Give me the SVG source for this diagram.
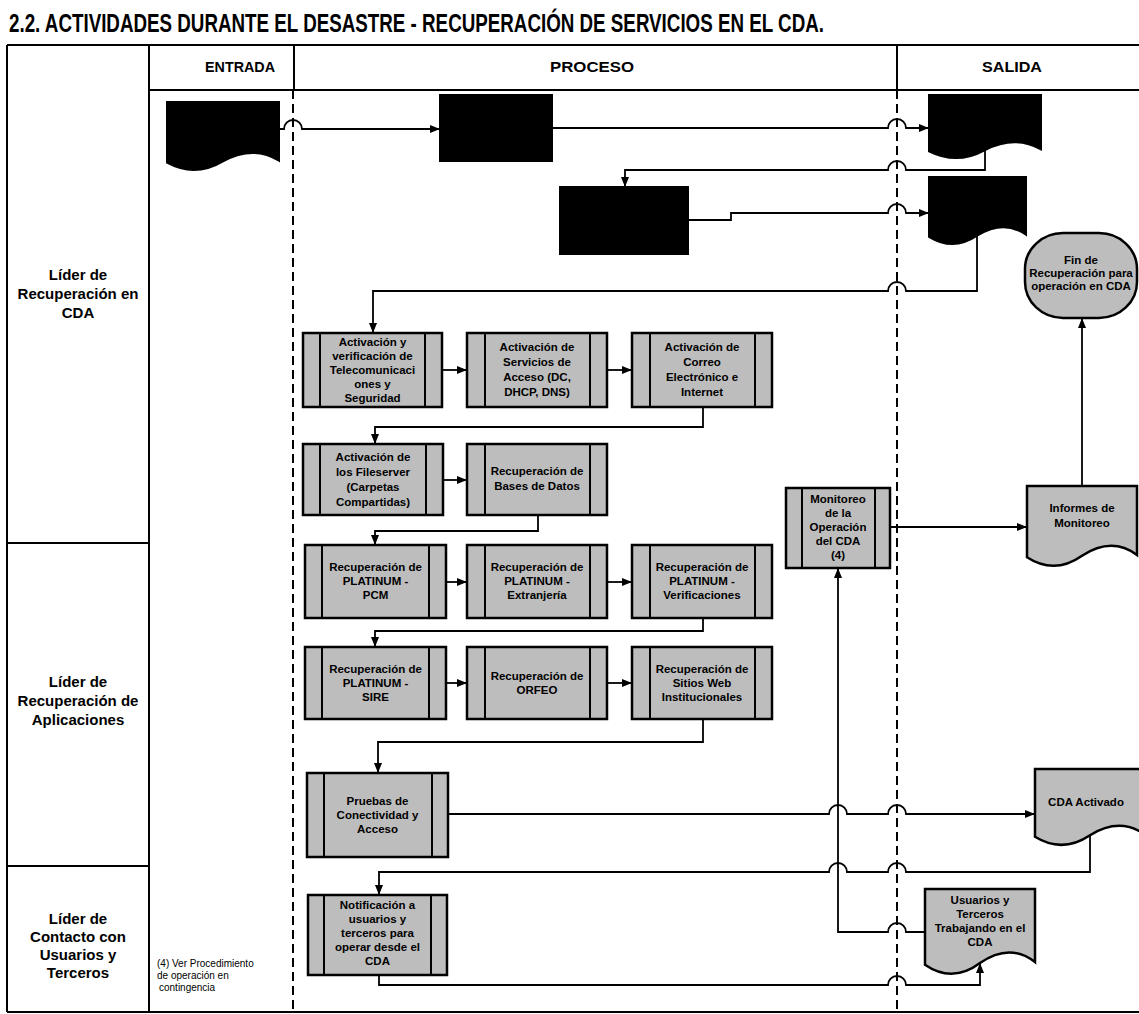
<svg xmlns="http://www.w3.org/2000/svg" width="1139" height="1014" viewBox="0 0 1139 1014">
  <style>
    .frame { stroke: #000; stroke-width: 2; fill: none; }
    .dash { stroke: #000; stroke-width: 2; stroke-dasharray: 9 5; fill: none; }
    .blk { fill: #000; stroke: #000; stroke-width: 2; }
    .proc { fill: #bdbdbd; stroke: #000; stroke-width: 2.5; }
    .side { stroke: #000; stroke-width: 2; fill: none; }
    .doc { fill: #bdbdbd; stroke: #000; stroke-width: 2.5; }
    .conn { stroke: #000; stroke-width: 1.8; fill: none; }
    .t { font-family: "Liberation Sans", Arial, sans-serif; font-weight: bold; font-size: 11.5px; text-anchor: middle; fill: #000; }
    .lane { font-family: "Liberation Sans", Arial, sans-serif; font-weight: bold; font-size: 15px; text-anchor: middle; fill: #000; }
    .head { font-family: "Liberation Sans", Arial, sans-serif; font-weight: bold; font-size: 15px; text-anchor: middle; fill: #000; }
    .note { font-family: "Liberation Sans", Arial, sans-serif; font-size: 10px; fill: #000; }
  </style>
  <defs>
    <marker id="arrow" viewBox="0 0 10 8" refX="10" refY="4" markerWidth="10" markerHeight="8" markerUnits="userSpaceOnUse" orient="auto">
      <path d="M0,0 L10,4 L0,8 Z" fill="#000"/>
    </marker>
  </defs>

  <rect width="1139" height="1014" fill="#fff"/>

  <!-- Title -->
  <text x="9" y="32" font-family="'Liberation Sans', Arial, sans-serif" font-weight="bold" font-size="25" textLength="815" lengthAdjust="spacingAndGlyphs">2.2. ACTIVIDADES DURANTE EL DESASTRE - RECUPERACIÓN DE SERVICIOS EN EL CDA.</text>

  <!-- Swimlane frame -->
  <g id="frame">
    <line class="frame" x1="7" y1="45" x2="1139" y2="45"/>
    <line class="frame" x1="7" y1="45" x2="7" y2="1012"/>
    <line class="frame" x1="149" y1="45" x2="149" y2="1012"/>
    <line class="frame" x1="294" y1="45" x2="294" y2="90"/>
    <line class="frame" x1="897" y1="45" x2="897" y2="90"/>
    <line class="frame" x1="149" y1="90" x2="1139" y2="90"/>
    <line class="frame" x1="7" y1="543" x2="149" y2="543"/>
    <line class="frame" x1="7" y1="866" x2="149" y2="866"/>
    <line class="frame" x1="7" y1="1012" x2="1139" y2="1012"/>
    <line class="dash" x1="293" y1="90" x2="293" y2="1012"/>
    <line class="dash" x1="897" y1="90" x2="897" y2="1012"/>
    <text class="head" x="240" y="72" textLength="70" lengthAdjust="spacingAndGlyphs">ENTRADA</text>
    <text class="head" x="592" y="72" textLength="84" lengthAdjust="spacingAndGlyphs">PROCESO</text>
    <text class="head" x="1012" y="72" textLength="60" lengthAdjust="spacingAndGlyphs">SALIDA</text>
  </g>

  <!-- Lane labels -->
  <g id="lane-cda">
    <text class="lane" x="78" y="280">Líder de</text>
    <text class="lane" x="78" y="299">Recuperación en</text>
    <text class="lane" x="78" y="318">CDA</text>
  </g>
  <g id="lane-apps">
    <text class="lane" x="78" y="687">Líder de</text>
    <text class="lane" x="78" y="706">Recuperación de</text>
    <text class="lane" x="78" y="725">Aplicaciones</text>
  </g>
  <g id="lane-users">
    <text class="lane" x="78" y="924">Líder de</text>
    <text class="lane" x="78" y="942">Contacto con</text>
    <text class="lane" x="78" y="960">Usuarios y</text>
    <text class="lane" x="78" y="978">Terceros</text>
  </g>
  <g id="footnote">
    <text class="note" x="157" y="967">(4) Ver Procedimiento</text>
    <text class="note" x="157" y="979">de operación en</text>
    <text class="note" x="159" y="991">contingencia</text>
  </g>

  <!-- Connectors -->
  <g id="connectors">
    <path class="conn" d="M279,129 H284 A9,9 0 0 1 302,129 H440" marker-end="url(#arrow)"/>
    <path class="conn" d="M552,128 H888 A9,9 0 0 1 906,128 H929" marker-end="url(#arrow)"/>
    <path class="conn" d="M985,150 V170 H906 A9,9 0 0 0 888,170 H625 V187" marker-end="url(#arrow)"/>
    <path class="conn" d="M688,220 H731 V213 H888 A9,9 0 0 1 906,213 H929" marker-end="url(#arrow)"/>
    <path class="conn" d="M977,235 V291 H906 A9,9 0 0 0 888,291 H373 V333" marker-end="url(#arrow)"/>
    <path class="conn" d="M442,370 H467" marker-end="url(#arrow)"/>
    <path class="conn" d="M607,370 H632" marker-end="url(#arrow)"/>
    <path class="conn" d="M703,407 V427 H375 V444" marker-end="url(#arrow)"/>
    <path class="conn" d="M443,480 H467" marker-end="url(#arrow)"/>
    <path class="conn" d="M538,515 V531 H375 V545" marker-end="url(#arrow)"/>
    <path class="conn" d="M446,582 H467" marker-end="url(#arrow)"/>
    <path class="conn" d="M607,582 H632" marker-end="url(#arrow)"/>
    <path class="conn" d="M703,618 V631 H375 V647" marker-end="url(#arrow)"/>
    <path class="conn" d="M446,683 H467" marker-end="url(#arrow)"/>
    <path class="conn" d="M607,683 H632" marker-end="url(#arrow)"/>
    <path class="conn" d="M703,719 V742 H378 V773" marker-end="url(#arrow)"/>
    <path class="conn" d="M448,814 H829 A9,9 0 0 1 847,814 H888 A9,9 0 0 1 906,814 H1035" marker-end="url(#arrow)"/>
    <path class="conn" d="M1090,835 V872 H906 A9,9 0 0 0 888,872 H847 A9,9 0 0 0 829,872 H379 V895" marker-end="url(#arrow)"/>
    <path class="conn" d="M379,975 V985 H888 A9,9 0 0 1 906,985 H980 V963" marker-end="url(#arrow)"/>
    <path class="conn" d="M925,932 H906 A9,9 0 0 0 888,932 H838 V568" marker-end="url(#arrow)"/>
    <path class="conn" d="M890,527 H1027" marker-end="url(#arrow)"/>
    <path class="conn" d="M1082,486 V318" marker-end="url(#arrow)"/>
  </g>

  <!-- Blacked-out inputs, steps and outputs -->
  <g id="doc-input">
    <path class="blk" d="M167,102 H279 V160.7 Q253.2,144.8 223,161.3 Q195,177.9 167,162.7 Z"/>
  </g>
  <g id="step-black-1">
    <rect class="blk" x="440" y="95" width="112" height="66"/>
  </g>
  <g id="doc-output-1">
    <path class="blk" d="M929,95 H1041 V149.4 Q1015.2,134.7 985,150 Q957,165.4 929,151.3 Z"/>
  </g>
  <g id="step-black-2">
    <rect class="blk" x="560" y="187" width="128" height="67"/>
  </g>
  <g id="doc-output-2">
    <path class="blk" d="M929,177 H1026 V234.8 Q1003.7,219.2 977.5,235.5 Q953.3,251.8 929,236.8 Z"/>
  </g>

  <!-- End terminal -->
  <g id="fin-recuperacion">
    <rect class="doc" x="1025" y="233" width="112" height="85" rx="38" ry="36"/>
    <text class="t" font-size="11" x="1081" y="264">Fin de</text>
    <text class="t" font-size="11" x="1081" y="277">Recuperación para</text>
    <text class="t" font-size="11" x="1081" y="290">operación en CDA</text>
  </g>

  <!-- Recovery steps -->
  <g id="act-telecom">
    <rect class="proc" x="303" y="333" width="139" height="74"/>
    <path class="side" d="M320,333 V407 M425,333 V407"/>
    <text class="t" x="372.5" y="346">Activación y</text>
    <text class="t" x="372.5" y="360">verificación de</text>
    <text class="t" x="372.5" y="374">Telecomunicaci</text>
    <text class="t" x="372.5" y="388">ones y</text>
    <text class="t" x="372.5" y="402">Seguridad</text>
  </g>
  <g id="act-acceso">
    <rect class="proc" x="467" y="333" width="140" height="74"/>
    <path class="side" d="M485,333 V407 M590,333 V407"/>
    <text class="t" x="537" y="351">Activación de</text>
    <text class="t" x="537" y="366">Servicios de</text>
    <text class="t" x="537" y="381">Acceso (DC,</text>
    <text class="t" x="537" y="396">DHCP, DNS)</text>
  </g>
  <g id="act-correo">
    <rect class="proc" x="632" y="333" width="140" height="74"/>
    <path class="side" d="M650,333 V407 M755,333 V407"/>
    <text class="t" x="702" y="351">Activación de</text>
    <text class="t" x="702" y="366">Correo</text>
    <text class="t" x="702" y="381">Electrónico e</text>
    <text class="t" x="702" y="396">Internet</text>
  </g>
  <g id="act-fileserver">
    <rect class="proc" x="303" y="444" width="140" height="71"/>
    <path class="side" d="M320,444 V515 M426,444 V515"/>
    <text class="t" x="373" y="461">Activación de</text>
    <text class="t" x="373" y="476">los Fileserver</text>
    <text class="t" x="373" y="491">(Carpetas</text>
    <text class="t" x="373" y="506">Compartidas)</text>
  </g>
  <g id="rec-bases">
    <rect class="proc" x="467" y="444" width="140" height="71"/>
    <path class="side" d="M485,444 V515 M590,444 V515"/>
    <text class="t" x="537" y="475">Recuperación de</text>
    <text class="t" x="537" y="490">Bases de Datos</text>
  </g>
  <g id="rec-pcm">
    <rect class="proc" x="305" y="545" width="141" height="73"/>
    <path class="side" d="M322,545 V618 M429,545 V618"/>
    <text class="t" x="375.5" y="571">Recuperación de</text>
    <text class="t" x="375.5" y="585">PLATINUM -</text>
    <text class="t" x="375.5" y="599">PCM</text>
  </g>
  <g id="rec-extranjeria">
    <rect class="proc" x="467" y="545" width="140" height="73"/>
    <path class="side" d="M485,545 V618 M590,545 V618"/>
    <text class="t" x="537" y="571">Recuperación de</text>
    <text class="t" x="537" y="585">PLATINUM -</text>
    <text class="t" x="537" y="599">Extranjería</text>
  </g>
  <g id="rec-verificaciones">
    <rect class="proc" x="632" y="545" width="140" height="73"/>
    <path class="side" d="M650,545 V618 M755,545 V618"/>
    <text class="t" x="702" y="571">Recuperación de</text>
    <text class="t" x="702" y="585">PLATINUM -</text>
    <text class="t" x="702" y="599">Verificaciones</text>
  </g>
  <g id="rec-sire">
    <rect class="proc" x="305" y="647" width="141" height="72"/>
    <path class="side" d="M322,647 V719 M429,647 V719"/>
    <text class="t" x="375.5" y="673">Recuperación de</text>
    <text class="t" x="375.5" y="687">PLATINUM -</text>
    <text class="t" x="375.5" y="701">SIRE</text>
  </g>
  <g id="rec-orfeo">
    <rect class="proc" x="467" y="647" width="140" height="72"/>
    <path class="side" d="M485,647 V719 M590,647 V719"/>
    <text class="t" x="537" y="680">Recuperación de</text>
    <text class="t" x="537" y="694">ORFEO</text>
  </g>
  <g id="rec-sitios">
    <rect class="proc" x="632" y="647" width="140" height="72"/>
    <path class="side" d="M650,647 V719 M755,647 V719"/>
    <text class="t" x="702" y="673">Recuperación de</text>
    <text class="t" x="702" y="687">Sitios Web</text>
    <text class="t" x="702" y="701">Institucionales</text>
  </g>
  <g id="pruebas">
    <rect class="proc" x="307" y="773" width="141" height="84"/>
    <path class="side" d="M324,773 V857 M432,773 V857"/>
    <text class="t" x="377.5" y="805">Pruebas de</text>
    <text class="t" x="377.5" y="819">Conectividad y</text>
    <text class="t" x="377.5" y="833">Acceso</text>
  </g>
  <g id="notificacion">
    <rect class="proc" x="308" y="895" width="139" height="80"/>
    <path class="side" d="M324,895 V975 M431,895 V975"/>
    <text class="t" x="377.5" y="909">Notificación a</text>
    <text class="t" x="377.5" y="923">usuarios y</text>
    <text class="t" x="377.5" y="937">terceros para</text>
    <text class="t" x="377.5" y="951">operar desde el</text>
    <text class="t" x="377.5" y="965">CDA</text>
  </g>
  <g id="monitoreo">
    <rect class="proc" x="786" y="488" width="104" height="80"/>
    <path class="side" d="M802,488 V568 M875,488 V568"/>
    <text class="t" x="838" y="503">Monitoreo</text>
    <text class="t" x="838" y="517">de la</text>
    <text class="t" x="838" y="531">Operación</text>
    <text class="t" x="838" y="545">del CDA</text>
    <text class="t" x="838" y="559">(4)</text>
  </g>

  <!-- Output documents -->
  <g id="informes">
    <path class="doc" d="M1027,486 H1137 V554.9 Q1111.7,536.2 1082,555.7 Q1054.5,575.1 1027,557.3 Z"/>
    <text class="t" x="1082" y="512">Informes de</text>
    <text class="t" x="1082" y="527">Monitoreo</text>
  </g>
  <g id="cda-activado">
    <path class="doc" d="M1035,769 H1145 V834.5 Q1119.7,816.7 1090,835.2 Q1062.5,853.7 1035,836.8 Z"/>
    <text class="t" x="1086" y="806">CDA Activado</text>
  </g>
  <g id="usuarios-trabajando">
    <path class="doc" d="M925,889 H1035 V962.1 Q1009.7,942.3 980,963 Q952.5,983.6 925,964.7 Z"/>
    <text class="t" x="980" y="904">Usuarios y</text>
    <text class="t" x="980" y="918">Terceros</text>
    <text class="t" x="980" y="932">Trabajando en el</text>
    <text class="t" x="980" y="946">CDA</text>
  </g>
</svg>
